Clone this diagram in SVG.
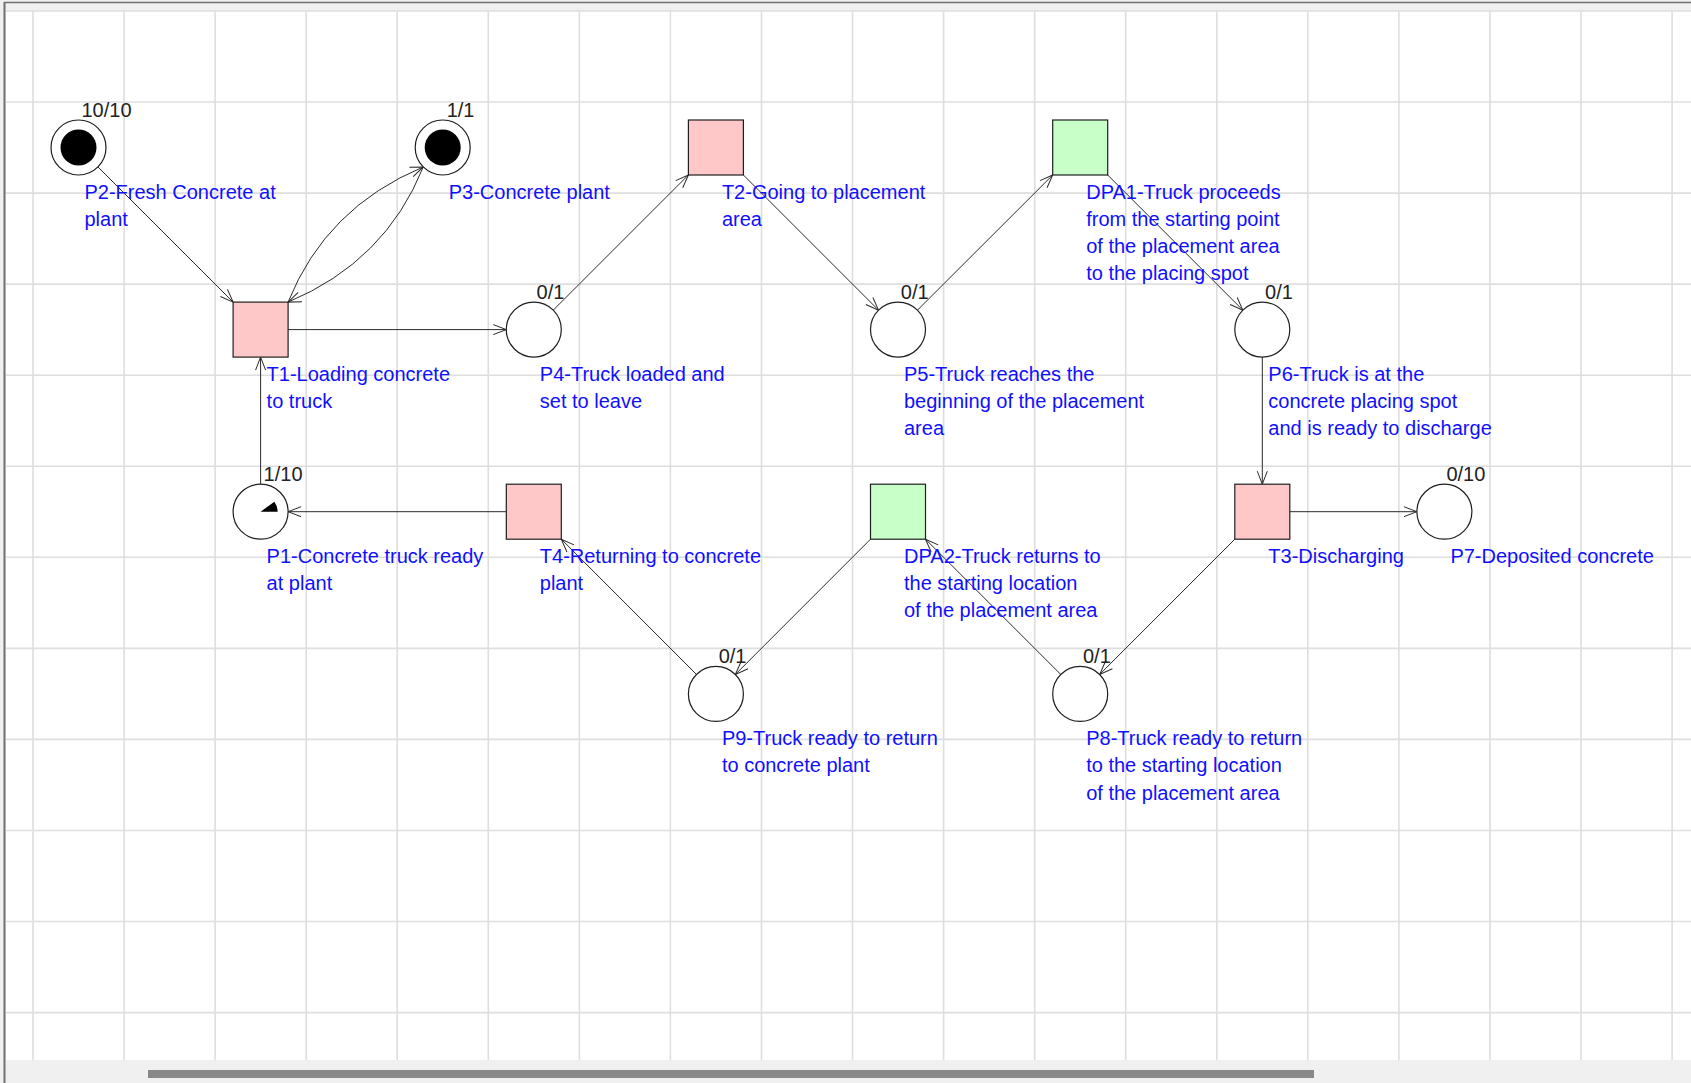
<svg xmlns="http://www.w3.org/2000/svg" width="1691" height="1083" viewBox="0 0 1691 1083">
  <style>
    .grid line { stroke: #dedede; stroke-width: 1.6; }
    .place { fill: #ffffff; stroke: #1e1e1e; stroke-width: 1.2; }
    .trans { stroke: #1e1e1e; stroke-width: 1.2; }
    .red { fill: #ffc8c8; }
    .green { fill: #c8ffc8; }
    .token { fill: #000000; }
    .lbl { font-family: "Liberation Sans", Arial, sans-serif; font-size: 20px; fill: #1010ff; }
    .cnt { font-family: "Liberation Sans", Arial, sans-serif; font-size: 20px; fill: #222222; }
    .arc { fill: none; stroke: #2a2a2a; stroke-width: 1; marker-end: url(#head); }
  </style>
  <defs>
    <marker id="head" markerUnits="userSpaceOnUse" markerWidth="16" markerHeight="12" refX="14" refY="6" orient="auto">
      <path d="M1,1 L14,6 L1,11" fill="none" stroke="#2a2a2a" stroke-width="1"/>
    </marker>
  </defs>

  <!-- window frame -->
  <rect x="0" y="0" width="1691" height="1083" fill="#f0f0f0"/>
  <rect x="6" y="11" width="1685" height="1049" fill="#ffffff"/>
  <line x1="4" y1="2.5" x2="1691" y2="2.5" stroke="#707070" stroke-width="1.5"/>
  <line x1="4.5" y1="2" x2="4.5" y2="1083" stroke="#707070" stroke-width="2"/>
  <rect x="148" y="1070" width="1166" height="8" fill="#888888"/>

  <!-- background grid -->
  <g class="grid">
    <line x1="33" y1="11" x2="33" y2="1060"/>
    <line x1="124.1" y1="11" x2="124.1" y2="1060"/>
    <line x1="215.1" y1="11" x2="215.1" y2="1060"/>
    <line x1="306.2" y1="11" x2="306.2" y2="1060"/>
    <line x1="397.2" y1="11" x2="397.2" y2="1060"/>
    <line x1="488.3" y1="11" x2="488.3" y2="1060"/>
    <line x1="579.4" y1="11" x2="579.4" y2="1060"/>
    <line x1="670.4" y1="11" x2="670.4" y2="1060"/>
    <line x1="761.5" y1="11" x2="761.5" y2="1060"/>
    <line x1="852.5" y1="11" x2="852.5" y2="1060"/>
    <line x1="943.6" y1="11" x2="943.6" y2="1060"/>
    <line x1="1034.7" y1="11" x2="1034.7" y2="1060"/>
    <line x1="1125.7" y1="11" x2="1125.7" y2="1060"/>
    <line x1="1216.8" y1="11" x2="1216.8" y2="1060"/>
    <line x1="1307.8" y1="11" x2="1307.8" y2="1060"/>
    <line x1="1398.9" y1="11" x2="1398.9" y2="1060"/>
    <line x1="1490" y1="11" x2="1490" y2="1060"/>
    <line x1="1581" y1="11" x2="1581" y2="1060"/>
    <line x1="1672.1" y1="11" x2="1672.1" y2="1060"/>
    <line x1="6" y1="11" x2="1691" y2="11"/>
    <line x1="6" y1="102" x2="1691" y2="102"/>
    <line x1="6" y1="193.1" x2="1691" y2="193.1"/>
    <line x1="6" y1="284.1" x2="1691" y2="284.1"/>
    <line x1="6" y1="375.2" x2="1691" y2="375.2"/>
    <line x1="6" y1="466.2" x2="1691" y2="466.2"/>
    <line x1="6" y1="557.3" x2="1691" y2="557.3"/>
    <line x1="6" y1="648.4" x2="1691" y2="648.4"/>
    <line x1="6" y1="739.4" x2="1691" y2="739.4"/>
    <line x1="6" y1="830.5" x2="1691" y2="830.5"/>
    <line x1="6" y1="921.5" x2="1691" y2="921.5"/>
    <line x1="6" y1="1012.6" x2="1691" y2="1012.6"/>
  </g>

  <!-- arcs between places and transitions -->
  <g id="connectors">
    <line class="arc" x1="97.95" y1="166.95" x2="233.1" y2="302.1"/>
    <path class="arc" d="M288.1,302.1 Q326,207.6 423.25,166.95"/>
    <path class="arc" d="M423.25,166.95 Q385.4,261.4 288.1,302.1"/>
    <line class="arc" x1="288.1" y1="329.6" x2="506.3" y2="329.6"/>
    <line class="arc" x1="553.25" y1="310.15" x2="688.4" y2="175"/>
    <line class="arc" x1="743.4" y1="175" x2="878.55" y2="310.15"/>
    <line class="arc" x1="917.45" y1="310.15" x2="1052.7" y2="175"/>
    <line class="arc" x1="1107.7" y1="175" x2="1242.85" y2="310.15"/>
    <line class="arc" x1="1262.3" y1="357.1" x2="1262.3" y2="484.2"/>
    <line class="arc" x1="1289.8" y1="511.7" x2="1416.9" y2="511.7"/>
    <line class="arc" x1="1234.8" y1="539.2" x2="1099.65" y2="674.45"/>
    <line class="arc" x1="1060.75" y1="674.45" x2="925.5" y2="539.2"/>
    <line class="arc" x1="870.5" y1="539.2" x2="735.35" y2="674.45"/>
    <line class="arc" x1="696.45" y1="674.45" x2="561.3" y2="539.2"/>
    <line class="arc" x1="506.3" y1="511.7" x2="288.1" y2="511.7"/>
    <line class="arc" x1="260.6" y1="484.2" x2="260.6" y2="357.1"/>
  </g>

  <!-- places -->
  <g id="P2">
    <circle class="place" cx="78.5" cy="147.5" r="27.5"/>
    <circle class="token" cx="78.5" cy="147.5" r="18"/>
    <text class="cnt" x="81.5" y="116.5">10/10</text>
    <text class="lbl" x="84.5" y="198.5">P2-Fresh Concrete at</text>
    <text class="lbl" x="84.5" y="225.8">plant</text>
  </g>
  <g id="P3">
    <circle class="place" cx="442.7" cy="147.5" r="27.5"/>
    <circle class="token" cx="442.7" cy="147.5" r="18"/>
    <text class="cnt" x="446.7" y="116.5">1/1</text>
    <text class="lbl" x="448.7" y="198.5">P3-Concrete plant</text>
  </g>
  <g id="P4">
    <circle class="place" cx="533.8" cy="329.6" r="27.5"/>
    <text class="cnt" x="536.6" y="298.5">0/1</text>
    <text class="lbl" x="539.8" y="380.6">P4-Truck loaded and</text>
    <text class="lbl" x="539.8" y="407.9">set to leave</text>
  </g>
  <g id="P5">
    <circle class="place" cx="898" cy="329.6" r="27.5"/>
    <text class="cnt" x="900.8" y="298.5">0/1</text>
    <text class="lbl" x="904" y="380.6">P5-Truck reaches the</text>
    <text class="lbl" x="904" y="407.9">beginning of the placement</text>
    <text class="lbl" x="904" y="435.2">area</text>
  </g>
  <g id="P6">
    <circle class="place" cx="1262.3" cy="329.6" r="27.5"/>
    <text class="cnt" x="1265.1" y="298.5">0/1</text>
    <text class="lbl" x="1268.3" y="380.6">P6-Truck is at the</text>
    <text class="lbl" x="1268.3" y="407.9">concrete placing spot</text>
    <text class="lbl" x="1268.3" y="435.2">and is ready to discharge</text>
  </g>
  <g id="P1">
    <circle class="place" cx="260.6" cy="511.7" r="27.5"/>
    <path class="token" d="M260.6,511.7 L277.6,511.7 A17,17 0 0 0 274.35,501.7 Z"/>
    <text class="cnt" x="263.6" y="480.5">1/10</text>
    <text class="lbl" x="266.6" y="562.7">P1-Concrete truck ready</text>
    <text class="lbl" x="266.6" y="590">at plant</text>
  </g>
  <g id="P7">
    <circle class="place" cx="1444.4" cy="511.7" r="27.5"/>
    <text class="cnt" x="1446.4" y="480.5">0/10</text>
    <text class="lbl" x="1450.4" y="562.7">P7-Deposited concrete</text>
  </g>
  <g id="P9">
    <circle class="place" cx="715.9" cy="693.9" r="27.5"/>
    <text class="cnt" x="718.7" y="662.8">0/1</text>
    <text class="lbl" x="721.9" y="744.9">P9-Truck ready to return</text>
    <text class="lbl" x="721.9" y="772.2">to concrete plant</text>
  </g>
  <g id="P8">
    <circle class="place" cx="1080.2" cy="693.9" r="27.5"/>
    <text class="cnt" x="1083" y="662.8">0/1</text>
    <text class="lbl" x="1086.2" y="744.9">P8-Truck ready to return</text>
    <text class="lbl" x="1086.2" y="772.2">to the starting location</text>
    <text class="lbl" x="1086.2" y="799.5">of the placement area</text>
  </g>

  <!-- transitions -->
  <g id="T1">
    <rect class="trans red" x="233.1" y="302.1" width="55" height="55"/>
    <text class="lbl" x="266.6" y="380.6">T1-Loading concrete</text>
    <text class="lbl" x="266.6" y="407.9">to truck</text>
  </g>
  <g id="T2">
    <rect class="trans red" x="688.4" y="120" width="55" height="55"/>
    <text class="lbl" x="721.9" y="198.5">T2-Going to placement</text>
    <text class="lbl" x="721.9" y="225.8">area</text>
  </g>
  <g id="DPA1">
    <rect class="trans green" x="1052.7" y="120" width="55" height="55"/>
    <text class="lbl" x="1086.2" y="198.5">DPA1-Truck proceeds</text>
    <text class="lbl" x="1086.2" y="225.8">from the starting point</text>
    <text class="lbl" x="1086.2" y="253.1">of the placement area</text>
    <text class="lbl" x="1086.2" y="280.4">to the placing spot</text>
  </g>
  <g id="T4">
    <rect class="trans red" x="506.3" y="484.2" width="55" height="55"/>
    <text class="lbl" x="539.8" y="562.7">T4-Returning to concrete</text>
    <text class="lbl" x="539.8" y="590">plant</text>
  </g>
  <g id="DPA2">
    <rect class="trans green" x="870.5" y="484.2" width="55" height="55"/>
    <text class="lbl" x="904" y="562.7">DPA2-Truck returns to</text>
    <text class="lbl" x="904" y="590">the starting location</text>
    <text class="lbl" x="904" y="617.3">of the placement area</text>
  </g>
  <g id="T3">
    <rect class="trans red" x="1234.8" y="484.2" width="55" height="55"/>
    <text class="lbl" x="1268.3" y="562.7">T3-Discharging</text>
  </g>
</svg>
